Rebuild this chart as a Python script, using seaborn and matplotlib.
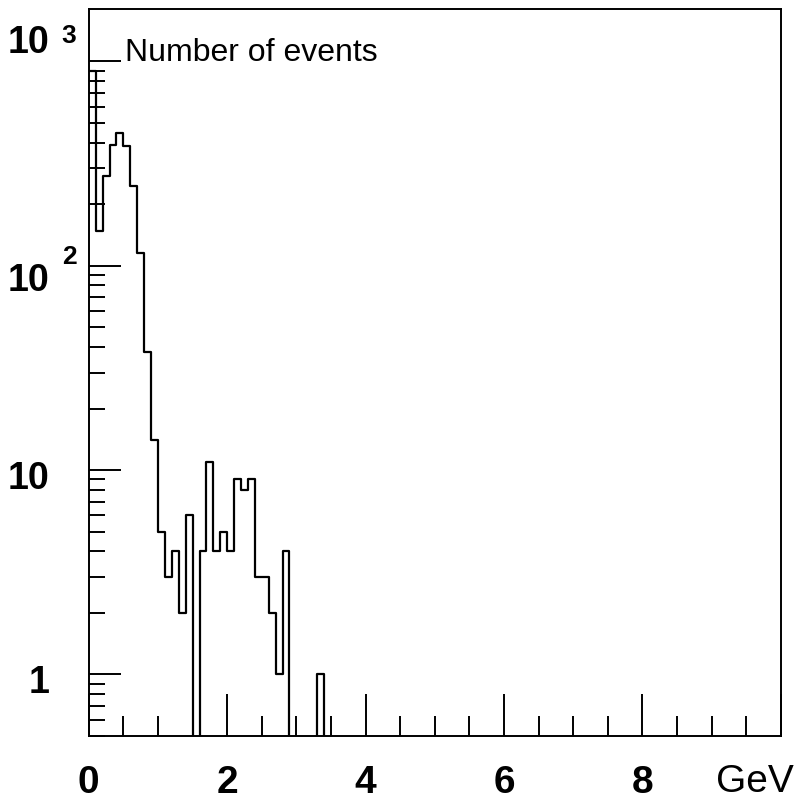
"""
Event count spectrum, log-scale step histogram (0-10 GeV, 0.1 GeV bins).
"""

import matplotlib
matplotlib.use("Agg")
import matplotlib.pyplot as plt
import matplotlib.transforms as mtransforms
from matplotlib.ticker import LogLocator, MultipleLocator, NullFormatter, FixedLocator
import numpy as np
import pandas as pd
import seaborn as sns

# ── data ───────────────────────────────────────────────────────────────────
BIN_WIDTH   = 0.1
X_RANGE     = (0.0, 10.0)
bin_centers = [0.05, 0.15, 0.25, 0.35, 0.45, 0.55, 0.65, 0.75, 0.85, 0.95,
               1.05, 1.15, 1.25, 1.35, 1.45, 1.55, 1.65, 1.75, 1.85, 1.95,
               2.05, 2.15, 2.25, 2.35, 2.45, 2.55, 2.65, 2.75, 2.85, 2.95,
               3.05, 3.15, 3.25, 3.35]
counts      = [900, 148, 275, 390, 445, 385, 245, 115, 38, 14,
               5, 3, 4, 2, 6, 0, 4, 11, 4, 5,
               4, 9, 8, 9, 3, 3, 2, 1, 4, 0,
               0, 0, 0, 1]
x_tick_labels = ["0", "2", "4", "6", "8"]
x_tick_values = [0, 2, 4, 6, 8]
y_decades     = [1, 10, 100, 1000]
y_labels      = ["1", "10", "10", "10"]
y_exponents   = [None, None, "2", "3"]

df = pd.DataFrame({"energy": bin_centers, "n": counts})

sns.set_style("white")
plt.rcParams["font.family"] = ["Liberation Sans", "DejaVu Sans"]
plt.rcParams["text.color"] = "black"
plt.rcParams["xtick.color"] = "black"
plt.rcParams["ytick.color"] = "black"
plt.rcParams["axes.edgecolor"] = "black"

fig = plt.figure(figsize=(8.0, 8.01), dpi=100)
ax = fig.add_axes([0.111, 0.0811, 0.865, 0.9077])
ax.set_yscale("log", nonpositive="clip")

sns.histplot(data=df, x="energy", weights="n", binwidth=BIN_WIDTH, binrange=X_RANGE,
             element="step", fill=False, color="black", linewidth=1.6, ax=ax)

ax.set_xlim(*X_RANGE)
ax.set_ylim(0.5, 1800)
ax.set_xlabel("")
ax.set_ylabel("")

for side in ["left", "right", "top", "bottom"]:
    ax.spines[side].set_visible(True)
    ax.spines[side].set_color("black")
    ax.spines[side].set_linewidth(1.4)

# x ticks: long every 2 GeV, short every 0.5 GeV, drawn inward
ax.set_xticks(x_tick_values + [10])
ax.set_xticklabels(x_tick_labels + [""])
ax.xaxis.set_minor_locator(MultipleLocator(0.5))
ax.tick_params(axis="x", which="major", direction="in", length=30, width=1.4,
               bottom=True, top=False, pad=21, labelsize=28, labelcolor="black")
ax.tick_params(axis="x", which="minor", direction="in", length=14.5, width=1.4,
               bottom=True, top=False)
for lab in ax.get_xticklabels():
    lab.set_fontweight("bold")

# y ticks: decades long, 2..9 short, labels drawn by hand
ax.yaxis.set_major_locator(FixedLocator(y_decades))
ax.yaxis.set_minor_locator(LogLocator(base=10, subs=np.arange(2, 10)))
ax.yaxis.set_major_formatter(NullFormatter())
ax.yaxis.set_minor_formatter(NullFormatter())
ax.tick_params(axis="y", which="major", direction="in", length=23, width=1.4,
               left=True, right=False)
ax.tick_params(axis="y", which="minor", direction="in", length=11.5, width=1.4,
               left=True, right=False)

# offsets in pixels (dpi=100) of each label's baseline from its tick
base_dy = [-19, -19, -25, 8]
exp_dy  = [None, None, 2, 18]
ytrans = ax.get_yaxis_transform()
for val, lab, exp, dy, edy in zip(y_decades, y_labels, y_exponents, base_dy, exp_dy):
    t = mtransforms.offset_copy(ytrans, fig=fig, x=-39, y=dy, units="dots")
    ax.text(0, val, lab, transform=t, ha="right", va="baseline",
            fontsize=27, fontweight="bold", color="black", clip_on=False)
    if exp:
        te = mtransforms.offset_copy(ytrans, fig=fig, x=-27, y=edy, units="dots")
        ax.text(0, val, exp, transform=te, ha="left", va="baseline",
                fontsize=19, fontweight="bold", color="black", clip_on=False)

ax.text(0.52, 1000, "Number of events", ha="left", va="baseline",
        fontsize=23, color="black")

tg = mtransforms.offset_copy(ax.transAxes, fig=fig, x=13, y=-56, units="dots")
ax.text(1.0, 0.0, "GeV", transform=tg, ha="right", va="baseline",
        fontsize=28, color="black", clip_on=False)

fig.savefig("out.png", dpi=100)
plt.close(fig)
